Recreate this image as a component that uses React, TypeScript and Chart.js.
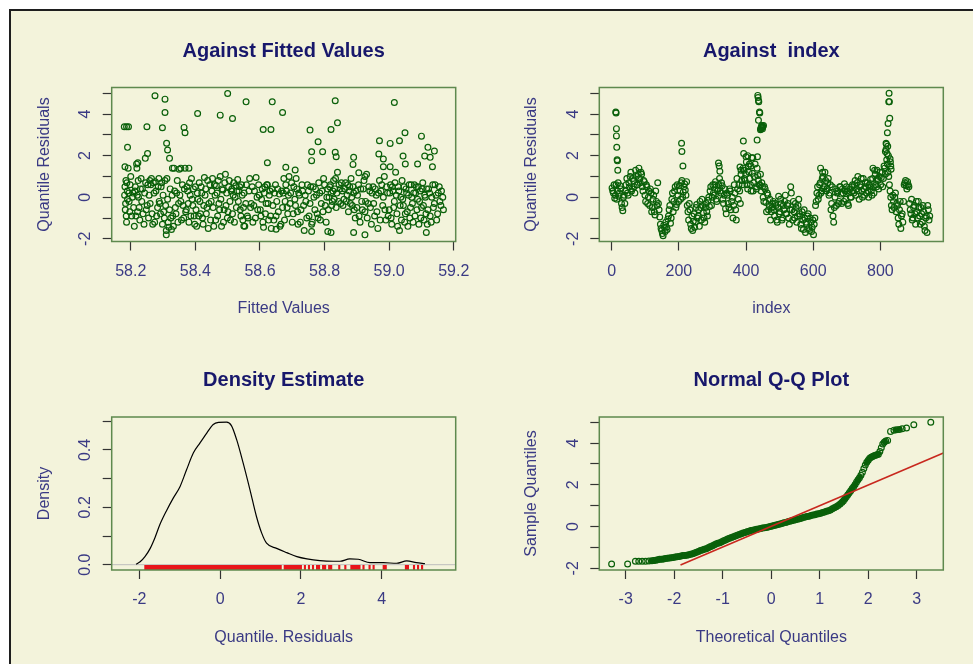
import React, { useEffect, useRef } from "react";
import { Chart, registerables } from "chart.js";
Chart.register(...registerables);

// ---------- Panel 1: residuals against fitted values ----------
const fittedX: number[] = [
  58.181, 58.183, 58.185, 58.187, 58.189, 58.192, 58.195, 58.198, 58.203, 58.207,
  58.211, 58.214, 58.218, 58.221, 58.224, 58.228, 58.232, 58.236, 58.241, 58.246,
  58.251, 58.255, 58.259, 58.262, 58.266, 58.270, 58.274, 58.278, 58.283, 58.287,
  58.290, 58.294, 58.298, 58.302, 58.306, 58.310, 58.314, 58.318, 58.322, 58.326,
  58.330, 58.334, 58.338, 58.342, 58.346, 58.350, 58.355, 58.360, 58.364, 58.368,
  58.372, 58.376, 58.380, 58.384, 58.388, 58.392, 58.396, 58.400, 58.404, 58.408,
  58.412, 58.416, 58.420, 58.424, 58.428, 58.432, 58.436, 58.440, 58.445, 58.449,
  58.453, 58.457, 58.461, 58.465, 58.469, 58.473, 58.477, 58.481, 58.485, 58.489,
  58.493, 58.497, 58.501, 58.505, 58.509, 58.513, 58.517, 58.521, 58.525, 58.529,
  58.533, 58.537, 58.541, 58.545, 58.549, 58.553, 58.558, 58.563, 58.568, 58.573,
  58.578, 58.583, 58.588, 58.593, 58.598, 58.603, 58.607, 58.611, 58.615, 58.619,
  58.623, 58.627, 58.631, 58.635, 58.640, 58.645, 58.650, 58.655, 58.660, 58.665,
  58.670, 58.674, 58.678, 58.682, 58.686, 58.690, 58.695, 58.700, 58.705, 58.710,
  58.714, 58.718, 58.722, 58.727, 58.732, 58.737, 58.742, 58.747, 58.752, 58.757,
  58.762, 58.767, 58.772, 58.777, 58.782, 58.787, 58.792, 58.797, 58.802, 58.807,
  58.812, 58.816, 58.820, 58.824, 58.828, 58.832, 58.836, 58.840, 58.845, 58.850,
  58.855, 58.860, 58.865, 58.870, 58.874, 58.878, 58.882, 58.886, 58.890, 58.895,
  58.900, 58.905, 58.910, 58.915, 58.920, 58.925, 58.930, 58.935, 58.940, 58.945,
  58.950, 58.955, 58.960, 58.965, 58.970, 58.975, 58.980, 58.985, 58.990, 58.995,
  59.000, 59.004, 59.008, 59.012, 59.016, 59.020, 59.024, 59.028, 59.032, 59.036,
  59.040, 59.044, 59.048, 59.052, 59.056, 59.060, 59.064, 59.068, 59.072, 59.076,
  59.080, 59.084, 59.088, 59.092, 59.096, 59.100, 59.104, 59.108, 59.112, 59.116,
  59.120, 59.125, 59.130, 59.135, 59.140, 59.145, 59.150, 59.155, 59.160, 59.166,
  58.180, 58.187, 58.193, 58.190, 58.275, 58.306, 58.306, 58.298, 58.250, 58.311,
  58.314, 58.320, 58.252, 58.245, 58.365, 58.368, 58.407, 58.477, 58.500, 58.515,
  58.557, 58.610, 58.638, 58.634, 58.670, 58.623, 58.680, 58.709, 58.755, 58.760,
  58.760, 58.780, 58.794, 58.820, 58.833, 58.840, 58.833, 58.836, 58.890, 58.888,
  58.970, 58.968, 58.982, 59.003, 59.016, 59.032, 59.049, 59.043, 59.100, 59.120,
  59.140, 59.110, 59.127, 59.134, 59.088, 59.050, 59.003, 58.982, 58.925, 58.906,
  58.310, 58.925, 58.890, 58.810, 58.820, 59.115, 58.760, 58.550, 58.650, 58.182,
  58.222, 58.219, 58.355, 58.380, 58.329,
];
const fittedResid: number[] = [
  0.1, -0.6, 0.8, -1.2, 0.3, 1.4, -0.2, 0.6, -0.9, 0.2,
  -1.4, 0.5, 1.6, -0.7, 0.0, -1.1, 0.9, 0.4, -1.3, 0.7,
  -0.4, -1.0, 0.8, 0.6, -0.8, 0.7, -1.2, 0.3, -0.5, 0.9,
  -0.3, 0.5, -1.3, -0.7, 0.8, -1.6, -0.1, -1.45, 0.4, -1.55,
  -0.9, 1.4, -0.5, 0.2, -1.2, 1.35, -0.2, 0.6, -1.0, 1.4,
  -0.6, 0.3, -1.2, 0.1, 0.9, -0.4, -0.9, 0.5, -1.4, -0.1,
  0.7, -0.8, 0.2, -1.3, 0.95, 0.4, -0.5, -1.5, 0.6, -0.2,
  0.9, -1.4, 0.1, 0.55, -0.9, -0.3, 1.0, -1.4, 0.35, -0.6,
  1.1, 0.2, -0.7, 0.8, -1.1, 0.4, 0.1, -1.2, 0.55, 0.3,
  -0.2, 0.5, -0.9, 0.1, -0.5, -1.4, 0.6, -1.0, 0.9, -0.3,
  -1.2, 0.3, 0.95, -0.6, 0.1, -0.9, 0.4, -1.45, 0.5, -0.3,
  0.6, -1.1, 0.3, -1.5, -0.4, 0.2, -0.9, 0.4, 0.15, -1.3,
  -0.5, 0.9, -0.2, 0.3, -0.8, 1.0, 0.2, -1.2, 0.5, -0.4,
  0.4, -1.3, 0.1, -0.6, 0.3, -1.6, -0.2, 0.6, -0.9, 0.5,
  -1.2, 0.0, 0.4, -0.8, 0.7, -1.1, 0.3, 0.9, -0.4, 0.0,
  -0.6, 0.5, 0.2, -0.2, 0.8, 0.4, -0.5, 1.2, 0.6, -0.3,
  0.3, -0.1, 0.7, 0.1, -0.7, 0.5, 0.9, -0.4, 0.2, -1.0,
  -0.5, 0.6, -1.2, -0.2, 0.4, -0.7, 1.1, -0.3, 0.3, -1.3,
  0.5, -0.9, 0.1, -1.5, 0.8, 0.3, -0.4, 1.0, -1.1, 0.2,
  -0.6, 0.6, -1.3, 0.3, -0.2, 1.2, -0.8, 0.5, -1.6, 0.0,
  0.8, -0.4, -1.2, 0.4, -0.7, 0.1, -1.0, 0.6, -0.3, 0.2,
  -0.9, 0.5, -0.1, -1.3, 0.3, -0.5, 0.7, -1.1, 0.0, 0.4,
  -0.6, 0.2, -1.2, 0.6, -0.3, 0.1, -0.8, 0.5, -0.4, 0.0,
  3.39, 3.39, 3.39, 2.4, 4.88, 4.72, 4.08, 3.34, 3.39, 2.6,
  2.27, 1.87, 2.1, 1.87, 3.36, 3.1, 4.03, 3.95, 4.99, 3.79,
  4.59, 3.26, 4.59, 3.26, 4.08, 1.66, 1.44, 1.31, 3.23, 2.19,
  1.76, 2.67, 2.19, 3.26, 4.64, 3.58, 2.16, 1.95, 1.92, 1.58,
  2.72, 2.08, 1.84, 2.59, 4.56, 2.72, 3.1, 1.98, 2.94, 2.4,
  2.22, 1.98, 1.92, 1.47, 1.6, 1.6, 1.47, 1.47, 1.0, 1.18,
  -1.81, -1.81, -1.7, -1.65, -1.7, -1.7, -1.65, -1.38, -1.54, 1.47,
  1.66, 1.4, 1.4, 1.4, 1.4,
];
const fittedX2: number[] = [
  58.182, 58.184, 58.186, 58.188, 58.190, 58.194, 58.197, 58.200, 58.205, 58.209,
  58.213, 58.216, 58.220, 58.223, 58.226, 58.230, 58.234, 58.238, 58.243, 58.248,
  58.253, 58.257, 58.260, 58.264, 58.268, 58.272, 58.276, 58.280, 58.285, 58.288,
  58.292, 58.296, 58.300, 58.304, 58.308, 58.312, 58.316, 58.320, 58.324, 58.328,
  58.332, 58.336, 58.340, 58.344, 58.348, 58.352, 58.357, 58.362, 58.366, 58.370,
  58.374, 58.378, 58.382, 58.386, 58.390, 58.394, 58.398, 58.402, 58.406, 58.410,
  58.414, 58.418, 58.422, 58.426, 58.430, 58.434, 58.438, 58.442, 58.447, 58.451,
  58.455, 58.459, 58.463, 58.467, 58.471, 58.475, 58.479, 58.483, 58.487, 58.491,
  58.495, 58.499, 58.503, 58.507, 58.511, 58.515, 58.519, 58.523, 58.527, 58.531,
  58.535, 58.539, 58.543, 58.547, 58.551, 58.556, 58.561, 58.566, 58.571, 58.576,
  58.581, 58.586, 58.591, 58.596, 58.601, 58.605, 58.609, 58.613, 58.617, 58.621,
  58.625, 58.629, 58.633, 58.638, 58.643, 58.648, 58.652, 58.657, 58.662, 58.667,
  58.672, 58.676, 58.680, 58.684, 58.688, 58.693, 58.698, 58.703, 58.708, 58.712,
  58.716, 58.720, 58.725, 58.730, 58.735, 58.740, 58.745, 58.750, 58.755, 58.760,
  58.765, 58.770, 58.775, 58.780, 58.785, 58.790, 58.795, 58.800, 58.805, 58.810,
  58.814, 58.818, 58.822, 58.826, 58.830, 58.834, 58.838, 58.843, 58.848, 58.852,
  58.857, 58.862, 58.867, 58.872, 58.876, 58.880, 58.884, 58.888, 58.892, 58.897,
  58.902, 58.907, 58.912, 58.917, 58.922, 58.927, 58.932, 58.937, 58.942, 58.947,
  58.952, 58.957, 58.962, 58.967, 58.972, 58.977, 58.982, 58.987, 58.992, 58.997,
  59.002, 59.006, 59.010, 59.014, 59.018, 59.022, 59.026, 59.030, 59.034, 59.038,
  59.042, 59.046, 59.050, 59.054, 59.058, 59.062, 59.066, 59.070, 59.074, 59.078,
  59.082, 59.086, 59.090, 59.094, 59.098, 59.102, 59.106, 59.110, 59.114, 59.118,
  59.122, 59.127, 59.132, 59.137, 59.142, 59.147, 59.152, 59.157, 59.162, 59.168,
];
const fittedResid2: number[] = [
  0.5, -0.3, -0.9, 0.7, -0.1, 0.2, -0.7, 1.0, 0.0, -0.5,
  0.3, -0.9, 0.1, 0.8, -0.5, 0.4, -0.2, -0.8, 0.2, -0.6,
  0.6, 0.1, -0.3, 0.9, -1.3, 0.2, 0.75, -0.9, 0.5, -0.2,
  -0.8, 0.7, 0.1, -1.0, -0.4, 0.9, -1.2, -0.6, -1.0, 0.1,
  -1.4, 0.3, -0.8, 0.8, -0.3, 0.1, -1.1, -0.4, 0.4, -0.7,
  0.5, -0.3, 0.7, -0.9, -0.1, 0.4, -1.3, -0.6, 0.2, -0.9,
  -0.2, 0.5, -1.0, -0.4, 0.1, -0.8, 0.8, -0.3, -1.1, 0.3,
  -0.5, 0.6, -1.1, 0.2, 0.8, -0.6, -0.1, 0.4, -1.2, 0.7,
  -0.4, -1.0, 0.5, -0.2, 0.3, -0.8, 0.7, 0.0, -0.5, 0.85,
  0.3, -0.6, 0.6, -1.1, 0.2, -0.3, -0.9, 0.3, -0.5, 0.5,
  -0.4, -1.0, 0.0, 0.6, -0.6, -0.1, -1.2, 0.2, -0.8, 0.6,
  -0.3, 0.1, -0.9, 0.4, -1.1, 0.6, -0.2, -0.7, -1.4, 0.3,
  0.2, -1.1, 0.6, -0.5, 0.1, -0.3, 0.7, -0.8, -0.1, 0.9,
  -0.7, 0.2, -1.2, 0.6, -0.4, 0.1, -1.0, 0.3, -0.3, -1.3,
  0.5, -0.6, 0.1, -1.0, 0.2, -0.3, -0.7, 0.6, -1.2, 0.4,
  0.0, 0.6, -0.4, 0.3, -0.1, 0.9, 0.2, -0.2, 0.4, 0.7,
  -0.4, 0.4, -0.2, 0.6, 0.3, -0.3, 0.0, 0.5, -0.6, 0.3,
  0.1, -0.9, 0.4, -0.6, 0.8, -0.2, -1.0, 0.5, -0.5, 0.2,
  -0.3, 0.4, -0.7, 0.2, -1.1, 0.6, 0.0, -0.6, 0.5, -0.9,
  0.2, -1.0, 0.5, -0.5, 0.7, 0.1, -1.4, 0.3, -0.4, -1.1,
  -0.1, 0.5, -0.8, 0.2, -1.4, 0.6, -0.5, 0.0, -1.2, 0.6,
  0.2, -0.6, 0.5, -0.2, -1.0, 0.4, -0.4, 0.1, -0.8, -1.3,
  0.4, -0.9, 0.0, -0.5, 0.6, -1.1, 0.2, -0.2, 0.3, -0.6,
];

// ---------- Panel 2: residuals against index ----------
const indexStart = 1;
const indexStart2 = 3;
const indexStep = 4;
const residByIndex: number[] = [
  0.45, 0.2, -0.05, 0.6, 0.3, 0.05, 0.55, -0.3, -0.65, 0.1,
  0.3, 0.9, 0.1, 0.5, 1.2, 0.4, 0.8, 0.2, 1.0, 0.6,
  1.4, 0.7, 1.1, 0.3, 0.75, -0.2, 0.5, 0.0, -0.4, 0.2,
  -0.5, 0.1, -0.85, -0.2, 0.7, -0.6, -1.3, -1.6, -1.85, -1.45,
  -1.2, -1.55, -0.9, -0.4, -1.0, 0.2, -0.2, 0.5, -0.35, 0.1,
  0.55, -0.1, 0.8, 0.25, 0.65, 0.1, -0.4, -1.1, -0.6, -1.5,
  -1.6, -0.8, -1.2, -0.35, -0.9, -1.4, -0.5, -0.1, -0.75, -1.2,
  -0.3, -0.9, 0.0, 0.3, -0.4, 0.6, 0.1, 0.75, -0.2, 0.4,
  0.9, 0.2, 0.55, -0.3, 0.4, -0.8, 0.1, -0.5, 0.3, -0.2,
  -1.0, 0.6, -0.6, 0.9, -0.1, 0.3, 1.1, 0.6, 1.3, 0.8,
  1.7, 0.4, 1.2, 0.6, 1.9, 0.3, 1.0, 0.5, 1.4, 0.8,
  0.6, 0.3, 0.5, -0.2, 0.4, -0.7, 0.1, -0.4, -1.1, -0.5,
  -0.2, -0.9, -0.4, -1.2, 0.05, -0.7, -0.3, -1.0, -0.6, 0.1,
  -0.8, -0.3, -1.3, 0.5, -0.6, -0.2, -1.0, -0.5, -0.9, -0.1,
  -0.9, -1.5, -1.1, -0.6, -1.7, -1.3, -0.8, -1.6, -1.2, -1.45,
  -1.8, -1.0, -0.2, 0.5, 0.1, 0.7, 0.3, 1.0, 0.5, 0.8,
  0.4, 0.9, 0.2, -0.6, 0.5, -1.2, 0.0, -0.4, 0.3, -0.2,
  0.5, -0.3, 0.2, 0.65, -0.1, 0.3, -0.4, 0.4, 0.0, 0.6,
  0.2, 0.8, 0.4, 1.0, -0.1, 0.6, 0.3, 0.9, 0.1, 0.5,
  0.7, 0.0, 0.5, 0.3, 0.9, 0.2, 1.1, 0.5, 0.8, 1.0,
  0.6, 1.2, 0.9, 1.4, 2.3, 1.6, 1.0, 0.3, -0.4, 0.1,
  -0.5, 0.2, -0.3, -1.0, -0.6, -1.5, -0.8, -0.2, 0.7, 0.55,
  0.75, 0.5, -0.6, -0.1, -1.0, -0.4, -1.3, -0.7, -0.2, -0.9,
  -0.5, -1.2, -0.7, -1.6, -0.9, -0.4, -1.1,
];
const residByIndex2: number[] = [
  0.3, 0.6, 0.1, -0.1, 0.7, 0.2, 0.4, -0.5, 0.0, -0.3,
  0.6, 0.2, 0.7, 1.0, 0.3, 0.9, 0.5, 1.3, 0.6, 1.1,
  0.9, 1.2, 0.5, 0.8, 0.1, 0.6, -0.3, 0.3, 0.4, -0.7,
  -0.1, -0.7, 0.3, -0.4, -0.3, -0.95, -1.5, -1.75, -1.35, -1.65,
  -1.45, -1.05, -0.6, -1.25, -0.1, -0.7, 0.3, -0.5, 0.6, -0.2,
  0.3, 0.7, 0.0, 0.5, 0.35, 0.75, -0.7, -0.3, -1.3, -0.9,
  -1.15, -1.45, -0.5, -1.0, -0.6, -0.2, -1.1, -0.4, -1.0, -0.5,
  -0.7, -0.15, -0.45, 0.5, 0.0, 0.2, 0.6, -0.1, 0.3, 0.6,
  0.3, 0.7, -0.1, 0.1, -0.55, 0.2, -0.3, 0.4, -0.6, 0.0,
  -0.4, 0.2, -1.1, 0.4, 0.6, -0.3, 0.8, 1.4, 0.9, 1.1,
  0.6, 1.5, 0.9, 0.3, 1.15, 0.7, 1.6, 0.4, 1.05, 0.6,
  1.1, 0.7, 0.0, 0.5, -0.25, 0.2, -0.6, -0.1, -0.7, -0.3,
  -0.6, -0.3, -1.1, -0.5, -0.8, -0.1, -1.1, -0.4, -0.2, -0.8,
  -0.4, -1.0, -0.6, 0.2, -1.1, -0.7, -0.3, -1.2, -0.4, -0.8,
  -1.3, -0.7, -1.55, -1.0, -1.2, -0.9, -1.5, -1.0, -1.65, -1.1,
  -1.3, -0.4, 0.2, -0.1, 0.6, 0.2, 0.9, 0.4, 1.2, 0.3,
  0.7, 0.1, 0.6, -0.3, -0.9, -0.5, 0.4, 0.2, -0.3, 0.5,
  0.15, 0.4, -0.2, 0.3, 0.5, -0.3, 0.2, 0.0, 0.5, 0.3,
  0.6, 0.1, 0.7, 0.3, 0.5, 0.9, 0.0, 0.4, 0.7, 0.2,
  0.3, 0.6, 0.85, 0.1, 0.5, 1.3, 0.6, 0.9, 0.4, 1.2,
  0.95, 0.5, 1.5, 1.1, 1.8, 1.2, 0.6, 0.0, -0.6, -0.2,
  0.0, -0.7, -0.4, -1.3, -0.2, -0.9, -1.2, 0.6, 0.8, 0.4,
  0.6, -0.3, -0.8, -1.1, -0.5, -0.8, -0.2, -1.0, -0.5, -1.3,
  -0.8, -0.4, -1.4, -1.0, -1.7, -0.6, -0.9,
];
const spikeIndex: number[] = [
  12, 13, 14, 14, 15, 16, 17, 18,
  208, 209, 212,
  318, 320, 322,
  382, 385, 392, 393, 400, 405, 410, 415, 420,
  435, 436, 437, 438, 440, 441, 437, 433, 434, 443, 444, 445, 446, 447, 448, 449, 450, 452,
  622, 628, 778, 790,
  815, 817, 818, 826, 825, 827, 828, 823, 821, 822, 820, 824, 829, 830, 831, 832,
];
const spikeResid: number[] = [
  4.1, 4.05, 3.3, 2.95, 2.4, 1.8, 1.75, 1.3,
  2.6, 2.2, 1.5,
  1.65, 1.5, 1.25,
  1.45, 1.3, 2.7, 2.1, 1.95, 2.0, 1.6, 1.5, 1.9,
  4.9, 4.8, 4.65, 4.6, 4.1, 4.05, 3.7, 2.75, 1.95, 3.25, 3.3, 3.35, 3.4, 3.45, 3.35, 3.3, 3.4, 3.45,
  1.4, 1.2, 1.4, 1.3,
  2.2, 2.6, 2.55, 5.0, 4.6, 4.6, 3.8, 3.55, 3.1, 2.45, 2.1, 2.0, 1.85, 1.7, 1.5, 1.35,
];

// ---------- Panel 3: density estimate ----------
const densityX: number[] = [
  -2.08, -1.98, -1.86, -1.73, -1.61, -1.49, -1.32, -1.16, -0.99, -0.83,
  -0.66, -0.5, -0.33, -0.17, -0.04, 0.16, 0.28, 0.41, 0.57, 0.74,
  0.9, 1.03, 1.15, 1.4, 1.65, 1.9, 2.15, 2.47, 2.8, 2.97,
  3.21, 3.42, 3.71, 4.04, 4.37, 4.62, 4.86, 5.07,
];
const densityY: number[] = [
  0.002, 0.01, 0.028, 0.057, 0.095, 0.14, 0.19, 0.232, 0.273, 0.331,
  0.39, 0.424, 0.459, 0.489, 0.496, 0.497, 0.485, 0.436, 0.355, 0.261,
  0.168, 0.11, 0.075, 0.057, 0.042, 0.028, 0.02, 0.014, 0.012, 0.012,
  0.02, 0.019, 0.007, 0.007, 0.005, 0.013, 0.007, 0.0035,
];

// ---------- Panel 4: normal Q-Q ----------
const qqTheoretical: number[] = [
  -3.29, -2.96, -2.8, -2.73, -2.66, -2.59, -2.52, -2.46, -2.42, -2.38,
  -2.34, -2.3, -2.26, -2.22, -2.18, -2.14, -2.1, -2.06, -2.02, -1.98,
  -1.94, -1.9, -1.86, -1.82, -1.78, -1.74, -1.7, -1.66, -1.62, -1.58,
  -1.54, -1.5, -1.46, -1.42, -1.38, -1.34, -1.3, -1.26, -1.22, -1.18,
  -1.14, -1.1, -1.06, -1.02, -0.98, -0.94, -0.9, -0.86, -0.82, -0.78,
  -0.74, -0.7, -0.66, -0.62, -0.58, -0.54, -0.5, -0.46, -0.42, -0.38,
  -0.34, -0.3, -0.26, -0.22, -0.18, -0.14, -0.1, -0.06, -0.02, 0.02,
  0.06, 0.1, 0.14, 0.18, 0.22, 0.26, 0.3, 0.34, 0.38, 0.42,
  0.46, 0.5, 0.54, 0.58, 0.62, 0.66, 0.7, 0.74, 0.78, 0.82,
  0.86, 0.9, 0.94, 0.98, 1.02, 1.06, 1.1, 1.14, 1.18, 1.22,
  1.26, 1.3, 1.34, 1.38, 1.42, 1.46, 1.49, 1.52, 1.55, 1.58,
  1.61, 1.64, 1.67, 1.7, 1.73, 1.76, 1.79, 1.82, 1.85, 1.88,
  1.91, 1.94, 1.97, 2.0, 2.03, 2.06, 2.09, 2.12, 2.15, 2.18,
  2.21, 2.24, 2.27, 2.3, 2.33, 2.36, 2.4, 2.46, 2.53, 2.58,
  2.64, 2.7, 2.79, 2.94, 3.29,
];
const qqSample: number[] = [
  -1.79, -1.79, -1.66, -1.66, -1.66, -1.66, -1.65, -1.64, -1.63, -1.61,
  -1.59, -1.57, -1.56, -1.55, -1.53, -1.52, -1.51, -1.49, -1.48, -1.46,
  -1.45, -1.43, -1.41, -1.39, -1.38, -1.37, -1.35, -1.32, -1.3, -1.26,
  -1.23, -1.19, -1.15, -1.12, -1.09, -1.06, -1.02, -0.97, -0.93, -0.88,
  -0.84, -0.8, -0.77, -0.73, -0.68, -0.64, -0.6, -0.56, -0.52, -0.49,
  -0.45, -0.41, -0.38, -0.34, -0.31, -0.28, -0.25, -0.22, -0.19, -0.17,
  -0.15, -0.13, -0.11, -0.09, -0.07, -0.06, -0.04, -0.02, 0.0, 0.03,
  0.05, 0.08, 0.1, 0.12, 0.15, 0.18, 0.2, 0.23, 0.25, 0.28,
  0.3, 0.33, 0.35, 0.38, 0.4, 0.43, 0.46, 0.48, 0.5, 0.53,
  0.55, 0.57, 0.6, 0.62, 0.64, 0.67, 0.7, 0.73, 0.76, 0.8,
  0.85, 0.9, 0.95, 1.01, 1.08, 1.16, 1.24, 1.33, 1.43, 1.53,
  1.62, 1.72, 1.82, 1.91, 2.02, 2.13, 2.24, 2.34, 2.46, 2.6,
  2.78, 2.95, 3.08, 3.18, 3.27, 3.32, 3.36, 3.39, 3.42, 3.44,
  3.47, 3.6, 3.78, 3.96, 4.04, 4.1, 4.13, 4.56, 4.62, 4.64,
  4.65, 4.69, 4.72, 4.88, 5.0,
];
const qqLineX: number[] = [-1.87, 3.55];
const qqLineY: number[] = [-1.84, 3.52];

// ---------- Axis ticks ----------
const fittedTicks: number[] = [58.2, 58.4, 58.6, 58.8, 59.0, 59.2];
const indexTicks: number[] = [0, 200, 400, 600, 800];
const residTicks: number[] = [-2, -1, 0, 1, 2, 3, 4, 5];
const residTickLabels: number[] = [-2, 0, 2, 4];
const densityXTicks: number[] = [-2, 0, 2, 4];
const densityYTicks: number[] = [0, 0.1, 0.2, 0.3, 0.4, 0.5];
const densityYTickLabels: number[] = [0, 0.2, 0.4];
const qqXTicks: number[] = [-3, -2, -1, 0, 1, 2, 3];

// ---------- Styling ----------
const FONT = '"Liberation Sans", Arial, Helvetica, sans-serif';
const PAGE_BG = "#F3F3DB";
const TITLE_COLOR = "#17176B";
const LABEL_COLOR = "#3A3A84";
const BOX_COLOR = "#5E894E";
const TICK_COLOR = "#333333";
const POINT_COLOR = "#0A600A";
const TL = 9;
const XAXIS_H = 40;

type Rect = { left: number; top: number; width: number; height: number };
type Box = { left: number; top: number; right: number; bottom: number };
type PanelSpec = {
  canvas: Rect;
  box: Box;
  title: string;
  xTitle: string;
  yTitle: string;
  xMin: number;
  xMax: number;
  yMin: number;
  yMax: number;
  xTicks: number[];
  xFmt: (v: number) => string;
  yTicks: number[];
  yLabelTicks: number[];
  yFmt: (v: number) => string;
  datasets: any[];
  zeroLine?: boolean;
  rug?: number[];
};

const pointStyle = {
  pointRadius: 2.9,
  pointBorderWidth: 1.2,
  pointBorderColor: POINT_COLOR,
  pointBackgroundColor: "rgba(0,0,0,0)",
  showLine: false,
};

function makeDecor(spec: PanelSpec) {
  return {
    id: "decor",
    beforeDatasetsDraw(chart: any) {
      if (!spec.zeroLine) return;
      const { ctx, chartArea: a } = chart;
      const y = chart.scales.y.getPixelForValue(0);
      ctx.save();
      ctx.strokeStyle = "#BDBDBD";
      ctx.lineWidth = 1;
      ctx.beginPath();
      ctx.moveTo(a.left, y);
      ctx.lineTo(a.right, y);
      ctx.stroke();
      ctx.restore();
    },
    afterDatasetsDraw(chart: any) {
      const { ctx, chartArea: a } = chart;
      if (spec.rug) {
        const h = (a.bottom - a.top) * 0.032;
        ctx.save();
        ctx.strokeStyle = "#E8141A";
        ctx.lineWidth = 2.1;
        ctx.beginPath();
        for (const v of spec.rug) {
          const x = chart.scales.x.getPixelForValue(v);
          ctx.moveTo(x, a.bottom);
          ctx.lineTo(x, a.bottom - h);
        }
        ctx.stroke();
        ctx.restore();
      }
      ctx.save();
      ctx.strokeStyle = BOX_COLOR;
      ctx.lineWidth = 1.5;
      ctx.strokeRect(a.left, a.top, a.right - a.left, a.bottom - a.top);
      ctx.restore();
    },
    afterDraw(chart: any) {
      const { ctx, chartArea: a } = chart;
      const cx = (a.left + a.right) / 2;
      const cy = (a.top + a.bottom) / 2;
      ctx.save();
      ctx.textAlign = "center";
      ctx.textBaseline = "middle";
      ctx.fillStyle = TITLE_COLOR;
      ctx.font = `bold 20px ${FONT}`;
      ctx.fillText(spec.title, cx, a.top - 36.5);
      ctx.fillStyle = LABEL_COLOR;
      ctx.font = `16px ${FONT}`;
      ctx.fillText(spec.xTitle, cx, a.bottom + 67.5);
      ctx.save();
      ctx.translate(a.left - 67.5, cy);
      ctx.rotate(-Math.PI / 2);
      ctx.fillText(spec.yTitle, 0, 0);
      ctx.restore();
      for (const v of spec.yLabelTicks) {
        const y = chart.scales.y.getPixelForValue(v);
        ctx.save();
        ctx.translate(a.left - 26, y);
        ctx.rotate(-Math.PI / 2);
        ctx.fillText(spec.yFmt(v), 0, 0);
        ctx.restore();
      }
      ctx.restore();
    },
  };
}

function Panel({ spec }: { spec: PanelSpec }) {
  const ref = useRef<HTMLCanvasElement | null>(null);
  useEffect(() => {
    if (!ref.current) return;
    const { canvas: c, box: b } = spec;
    const gridOpts = {
      display: true,
      drawOnChartArea: false,
      drawTicks: true,
      tickLength: TL,
      tickColor: TICK_COLOR,
      tickWidth: 1.2,
    };
    const chart = new Chart(ref.current, {
      type: "scatter",
      data: { datasets: spec.datasets },
      options: {
        responsive: false,
        animation: false,
        devicePixelRatio: 1,
        events: [],
        layout: {
          autoPadding: false,
          padding: {
            left: b.left - c.left - TL,
            top: b.top - c.top,
            right: c.left + c.width - b.right,
            bottom: c.top + c.height - b.bottom - XAXIS_H,
          },
        },
        plugins: {
          legend: { display: false },
          tooltip: { enabled: false },
          title: { display: false },
        },
        scales: {
          x: {
            type: "linear",
            position: "bottom",
            min: spec.xMin,
            max: spec.xMax,
            afterBuildTicks: (s: any) => {
              s.ticks = spec.xTicks.map((v) => ({ value: v }));
            },
            afterFit: (s: any) => {
              s.height = XAXIS_H;
            },
            grid: gridOpts,
            border: { display: false },
            ticks: {
              display: true,
              autoSkip: false,
              maxRotation: 0,
              minRotation: 0,
              padding: 11,
              color: LABEL_COLOR,
              font: { family: FONT, size: 16 },
              callback: (v: any) => spec.xFmt(Number(v)),
            },
          },
          y: {
            type: "linear",
            position: "left",
            min: spec.yMin,
            max: spec.yMax,
            afterBuildTicks: (s: any) => {
              s.ticks = spec.yTicks.map((v) => ({ value: v }));
            },
            afterFit: (s: any) => {
              s.width = TL;
            },
            grid: gridOpts,
            border: { display: false },
            ticks: { display: false },
          },
        },
      } as any,
      plugins: [makeDecor(spec) as any],
    });
    return () => chart.destroy();
  }, [spec]);
  return (
    <canvas
      ref={ref}
      width={spec.canvas.width}
      height={spec.canvas.height}
      style={{
        position: "absolute",
        left: spec.canvas.left,
        top: spec.canvas.top,
        width: spec.canvas.width,
        height: spec.canvas.height,
      }}
    />
  );
}

const intFmt = (v: number) => String(Math.round(v));

// where the Q-Q circles sit only a couple of pixels apart they merge into a solid band
const qqBandSegment = {
  borderColor: (c: any) =>
    Math.hypot(c.p1.x - c.p0.x, c.p1.y - c.p0.y) < 3.2 ? POINT_COLOR : "rgba(0,0,0,0)",
};

const panels: PanelSpec[] = [
  {
    canvas: { left: 11, top: 11, width: 475, height: 322 },
    box: { left: 111.7, top: 87.5, right: 455.7, bottom: 241.5 },
    title: "Against Fitted Values",
    xTitle: "Fitted Values",
    yTitle: "Quantile Residuals",
    xMin: 58.141,
    xMax: 59.206,
    yMin: -2.13,
    yMax: 5.28,
    xTicks: fittedTicks,
    xFmt: (v) => v.toFixed(1),
    yTicks: residTicks,
    yLabelTicks: residTickLabels,
    yFmt: intFmt,
    datasets: [
      { data: fittedX.map((x, i) => ({ x, y: fittedResid[i] })), ...pointStyle },
      { data: fittedX2.map((x, i) => ({ x, y: fittedResid2[i] })), ...pointStyle },
    ],
  },
  {
    canvas: { left: 486, top: 11, width: 487, height: 322 },
    box: { left: 599.3, top: 87.5, right: 943.3, bottom: 241.5 },
    title: "Against  index",
    xTitle: "index",
    yTitle: "Quantile Residuals",
    xMin: -37,
    xMax: 987.5,
    yMin: -2.13,
    yMax: 5.28,
    xTicks: indexTicks,
    xFmt: intFmt,
    yTicks: residTicks,
    yLabelTicks: residTickLabels,
    yFmt: intFmt,
    datasets: [
      {
        data: residByIndex.map((y, i) => ({ x: indexStart + i * indexStep, y })),
        ...pointStyle,
      },
      {
        data: residByIndex2.map((y, i) => ({ x: indexStart2 + i * indexStep, y })),
        ...pointStyle,
      },
      { data: spikeIndex.map((x, i) => ({ x, y: spikeResid[i] })), ...pointStyle },
    ],
  },
  {
    canvas: { left: 11, top: 333, width: 475, height: 331 },
    box: { left: 111.7, top: 417, right: 455.7, bottom: 570 },
    title: "Density Estimate",
    xTitle: "Quantile. Residuals",
    yTitle: "Density",
    xMin: -2.683,
    xMax: 5.832,
    yMin: -0.0185,
    yMax: 0.515,
    xTicks: densityXTicks,
    xFmt: intFmt,
    yTicks: densityYTicks,
    yLabelTicks: densityYTickLabels,
    yFmt: (v) => v.toFixed(1),
    zeroLine: true,
    rug: [...residByIndex, ...residByIndex2, ...spikeResid],
    datasets: [
      {
        data: densityX.map((x, i) => ({ x, y: densityY[i] })),
        showLine: true,
        pointRadius: 0,
        borderColor: "#000000",
        borderWidth: 1.2,
        cubicInterpolationMode: "monotone",
      },
    ],
  },
  {
    canvas: { left: 486, top: 333, width: 487, height: 331 },
    box: { left: 599.3, top: 417, right: 943.3, bottom: 570 },
    title: "Normal Q-Q Plot",
    xTitle: "Theoretical Quantiles",
    yTitle: "Sample Quantiles",
    xMin: -3.544,
    xMax: 3.548,
    yMin: -2.08,
    yMax: 5.25,
    xTicks: qqXTicks,
    xFmt: intFmt,
    yTicks: residTicks,
    yLabelTicks: residTickLabels,
    yFmt: intFmt,
    datasets: [
      {
        data: qqLineX.map((x, i) => ({ x, y: qqLineY[i] })),
        showLine: true,
        pointRadius: 0,
        borderColor: "#C8281E",
        borderWidth: 1.6,
      },
      { data: qqTheoretical.map((x, i) => ({ x, y: qqSample[i] })), ...pointStyle },
      {
        data: qqTheoretical.map((x, i) => ({ x, y: qqSample[i] })),
        showLine: true,
        pointRadius: 0,
        borderWidth: 4.5,
        borderColor: POINT_COLOR,
        segment: qqBandSegment,
      },
    ],
  },
];

export default function App() {
  return (
    <div
      style={{
        position: "fixed",
        left: 0,
        top: 0,
        width: 973,
        height: 664,
        overflow: "hidden",
        background: "#FFFFFF",
      }}
    >
      <div
        style={{
          position: "absolute",
          left: 9,
          top: 9,
          width: 990,
          height: 680,
          boxSizing: "border-box",
          border: "2px solid #1E1E1E",
          background: PAGE_BG,
        }}
      />
      {panels.map((p, i) => (
        <Panel key={i} spec={p} />
      ))}
    </div>
  );
}
